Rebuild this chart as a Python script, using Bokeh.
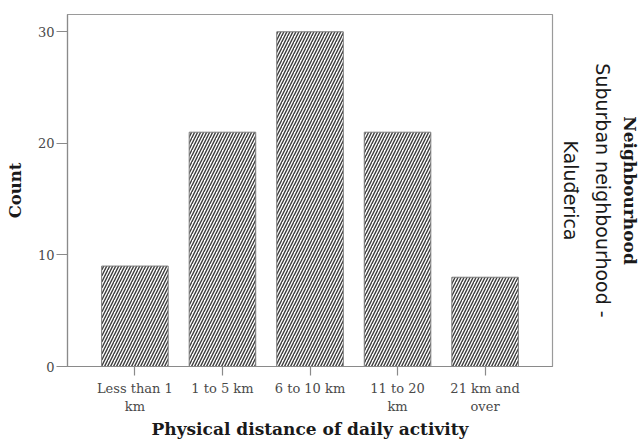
import math
from bokeh.plotting import figure
from bokeh.models import FactorRange, Range1d, FixedTicker, Title, ColumnDataSource
from bokeh.embed import file_html
from bokeh.resources import INLINE

categories = ["Less than 1\nkm", "1 to 5 km", "6 to 10 km", "11 to 20\nkm", "21 km and\nover"]
counts = [9, 21, 30, 21, 8]
y_ticks = [0, 10, 20, 30]
x_title = "Physical distance of daily activity"
y_title = "Count"
legend_title = "Neighbourhood"
legend_item_lines = ["Suburban neighbourhood -", "Kaluđerica"]

SERIF = "DejaVu Serif"
SANS = "DejaVu Sans"

src = ColumnDataSource(dict(cat=categories, n=counts))

p = figure(x_range=FactorRange(factors=categories, range_padding=0.108),
           y_range=Range1d(0, 31.55),
           frame_width=485, frame_height=352,
           min_border_left=67, min_border_right=10, min_border_top=14, min_border_bottom=70,
           output_backend="svg", toolbar_location=None,
           background_fill_color="white", border_fill_color="white")

p.vbar(x="cat", top="n", width=0.76, source=src,
       fill_color="white", line_color="#7a7a7a", line_width=1,
       hatch_pattern="/", hatch_color="#3c3c3c", hatch_scale=6, hatch_weight=1.4)

p.xgrid.visible = False
p.ygrid.visible = False
p.outline_line_color = "#9a9a9a"
p.outline_line_width = 1.2

for ax in (p.xaxis[0], p.yaxis[0]):
    ax.axis_line_color = "#8a8a8a"
    ax.axis_line_width = 1.2
    ax.major_tick_line_color = "#8a8a8a"
    ax.major_tick_line_width = 1.2
    ax.major_tick_in = 0
    ax.minor_tick_line_color = None
    ax.major_label_text_font = SERIF
    ax.major_label_text_font_size = "13px"
    ax.major_label_text_color = "#4a4a4a"
    ax.axis_label_text_font = SERIF
    ax.axis_label_text_font_style = "bold"
    ax.axis_label_text_color = "#1a1a1a"

p.yaxis[0].ticker = FixedTicker(ticks=y_ticks)
p.yaxis[0].major_tick_out = 11
p.yaxis[0].axis_label = y_title
p.yaxis[0].axis_label_text_font_size = "16.5px"
p.yaxis[0].major_label_standoff = 2
p.yaxis[0].axis_label_standoff = 10
p.xaxis[0].major_tick_out = 9
p.xaxis[0].axis_label = x_title
p.xaxis[0].axis_label_text_font_size = "17px"
p.xaxis[0].major_label_standoff = 5
p.xaxis[0].axis_label_standoff = 2

t_k = Title(text=legend_item_lines[1], align="center", text_font=SANS, text_font_style="normal",
            text_font_size="19px", text_color="#1a1a1a", standoff=15)
t_s = Title(text=legend_item_lines[0], align="center", text_font=SANS, text_font_style="normal",
            text_font_size="19px", text_color="#1a1a1a", standoff=0)
t_n = Title(text=legend_title, align="center", text_font=SERIF, text_font_style="bold",
            text_font_size="17px", text_color="#1a1a1a", standoff=8)
p.add_layout(t_k, "right")
p.add_layout(t_s, "right")
p.add_layout(t_n, "right")

open("out.html", "w").write(file_html(p, INLINE))
